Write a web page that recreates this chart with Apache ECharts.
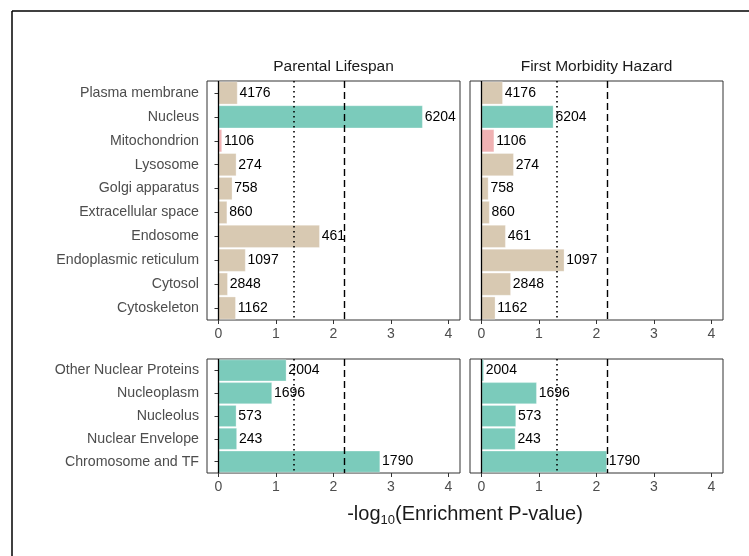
<!DOCTYPE html>
<html>
<head>
<meta charset="utf-8">
<script src="https://cdn.jsdelivr.net/npm/echarts@6/dist/echarts.min.js"></script>
<style>
  html, body { margin: 0; padding: 0; background: #fff; }
  #chart { width: 749px; height: 556px; }
</style>
</head>
<body>
<div id="chart"></div>
<script>
  // cellular compartments (top row)
  const cellCats = ['Plasma membrane', 'Nucleus', 'Mitochondrion', 'Lysosome', 'Golgi apparatus',
    'Extracellular space', 'Endosome', 'Endoplasmic reticulum', 'Cytosol', 'Cytoskeleton']
  const cellCounts = [4176, 6204, 1106, 274, 758, 860, 461, 1097, 2848, 1162]
  const cellGroup = ['other', 'nuclear', 'mito', 'other', 'other', 'other', 'other', 'other', 'other', 'other']
  const cellParental = [0.33, 3.55, 0.06, 0.31, 0.24, 0.15, 1.76, 0.47, 0.16, 0.30]
  const cellMorbidity = [0.37, 1.25, 0.22, 0.56, 0.12, 0.14, 0.42, 1.44, 0.51, 0.24]

  // nuclear sub-compartments (bottom row)
  const nucCats = ['Other Nuclear Proteins', 'Nucleoplasm', 'Nucleolus', 'Nuclear Envelope', 'Chromosome and TF']
  const nucCounts = [2004, 1696, 573, 243, 1790]
  const nucGroup = ['nuclear', 'nuclear', 'nuclear', 'nuclear', 'nuclear']
  const nucParental = [1.18, 0.93, 0.31, 0.32, 2.81]
  const nucMorbidity = [0.04, 0.96, 0.60, 0.59, 2.18]

  const panelTitles = ['Parental Lifespan', 'First Morbidity Hazard']
  const xTicks = [0, 1, 2, 3, 4]
  const nominalLine = 1.301   // -log10(0.05)
  const adjustedLine = 2.18

  const groupColors = { other: '#d8c9b2', nuclear: '#7bcbbb', mito: '#f0b1b3' }
  const font = '"Liberation Sans", Arial, Helvetica, sans-serif'

  const chart = echarts.init(document.getElementById('chart'))

  const grids = [
    { left: 207, top: 81, width: 253, height: 239 },
    { left: 470, top: 81, width: 253, height: 239 },
    { left: 207, top: 359, width: 253, height: 114 },
    { left: 470, top: 359, width: 253, height: 114 }
  ].map(g => Object.assign({ show: true, borderColor: '#333', borderWidth: 1, backgroundColor: '#fff' }, g))

  const xAxes = grids.map((g, i) => ({
    gridIndex: i,
    type: 'value',
    min: -0.2,
    max: 4.2,
    splitLine: { show: false },
    axisLine: { show: false },
    axisTick: { show: true, length: 4, customValues: xTicks, lineStyle: { color: '#333' } },
    axisLabel: { customValues: xTicks, color: '#4d4d4d', fontSize: 14, fontFamily: font, margin: 7 }
  }))

  const yAxes = grids.map((g, i) => ({
    gridIndex: i,
    type: 'category',
    inverse: true,
    data: i < 2 ? cellCats : nucCats,
    axisLine: { show: false },
    axisTick: { show: i % 2 === 0, alignWithLabel: true, length: 4, lineStyle: { color: '#333' } },
    axisLabel: { show: i % 2 === 0, color: '#4d4d4d', fontSize: 14.2, fontFamily: font, margin: 8 }
  }))

  function makeSeries(idx, vals, counts, groups) {
    return {
      type: 'bar',
      xAxisIndex: idx,
      yAxisIndex: idx,
      barCategoryGap: '5%',
      data: vals.map((v, k) => ({
        value: v,
        itemStyle: { color: groupColors[groups[k]] },
        label: { formatter: String(counts[k]) }
      })),
      itemStyle: { borderColor: 'rgba(255,255,255,0.6)', borderWidth: 0.5 },
      label: { show: true, position: 'right', distance: 2, color: '#000', fontSize: 14, fontFamily: font },
      markLine: {
        silent: true,
        symbol: 'none',
        label: { show: false },
        animation: false,
        data: [
          { xAxis: 0, lineStyle: { color: '#000', type: 'solid', width: 1.3 } },
          { xAxis: nominalLine, lineStyle: { color: '#000', type: [1.5, 3.5], width: 1.6 } },
          { xAxis: adjustedLine, lineStyle: { color: '#000', type: [7, 4], width: 1.4 } }
        ]
      }
    }
  }

  chart.setOption({
    animation: false,
    grid: grids,
    xAxis: xAxes,
    yAxis: yAxes,
    series: [
      makeSeries(0, cellParental, cellCounts, cellGroup),
      makeSeries(1, cellMorbidity, cellCounts, cellGroup),
      makeSeries(2, nucParental, nucCounts, nucGroup),
      makeSeries(3, nucMorbidity, nucCounts, nucGroup)
    ],
    graphic: [
      { type: 'line', shape: { x1: 12, y1: 11, x2: 749, y2: 11 }, style: { stroke: '#000', lineWidth: 1.5 } },
      { type: 'line', shape: { x1: 12, y1: 11, x2: 12, y2: 556 }, style: { stroke: '#000', lineWidth: 1.5 } },
      { type: 'text', x: 333.5, y: 67, style: { text: panelTitles[0], align: 'center', verticalAlign: 'middle',
          font: '15.5px ' + font, fill: '#1a1a1a' } },
      { type: 'text', x: 596.5, y: 67, style: { text: panelTitles[1], align: 'center', verticalAlign: 'middle',
          font: '15.5px ' + font, fill: '#1a1a1a' } },
      { type: 'text', x: 465, y: 514, style: {
          text: '-log{sub|10}(Enrichment P-value)',
          align: 'center', verticalAlign: 'middle',
          font: '20px ' + font, fill: '#1a1a1a',
          rich: { sub: { fontSize: 13, fontFamily: font, fill: '#1a1a1a', padding: [12, 0, 0, 0] } }
        } }
    ]
  })
</script>
</body>
</html>
